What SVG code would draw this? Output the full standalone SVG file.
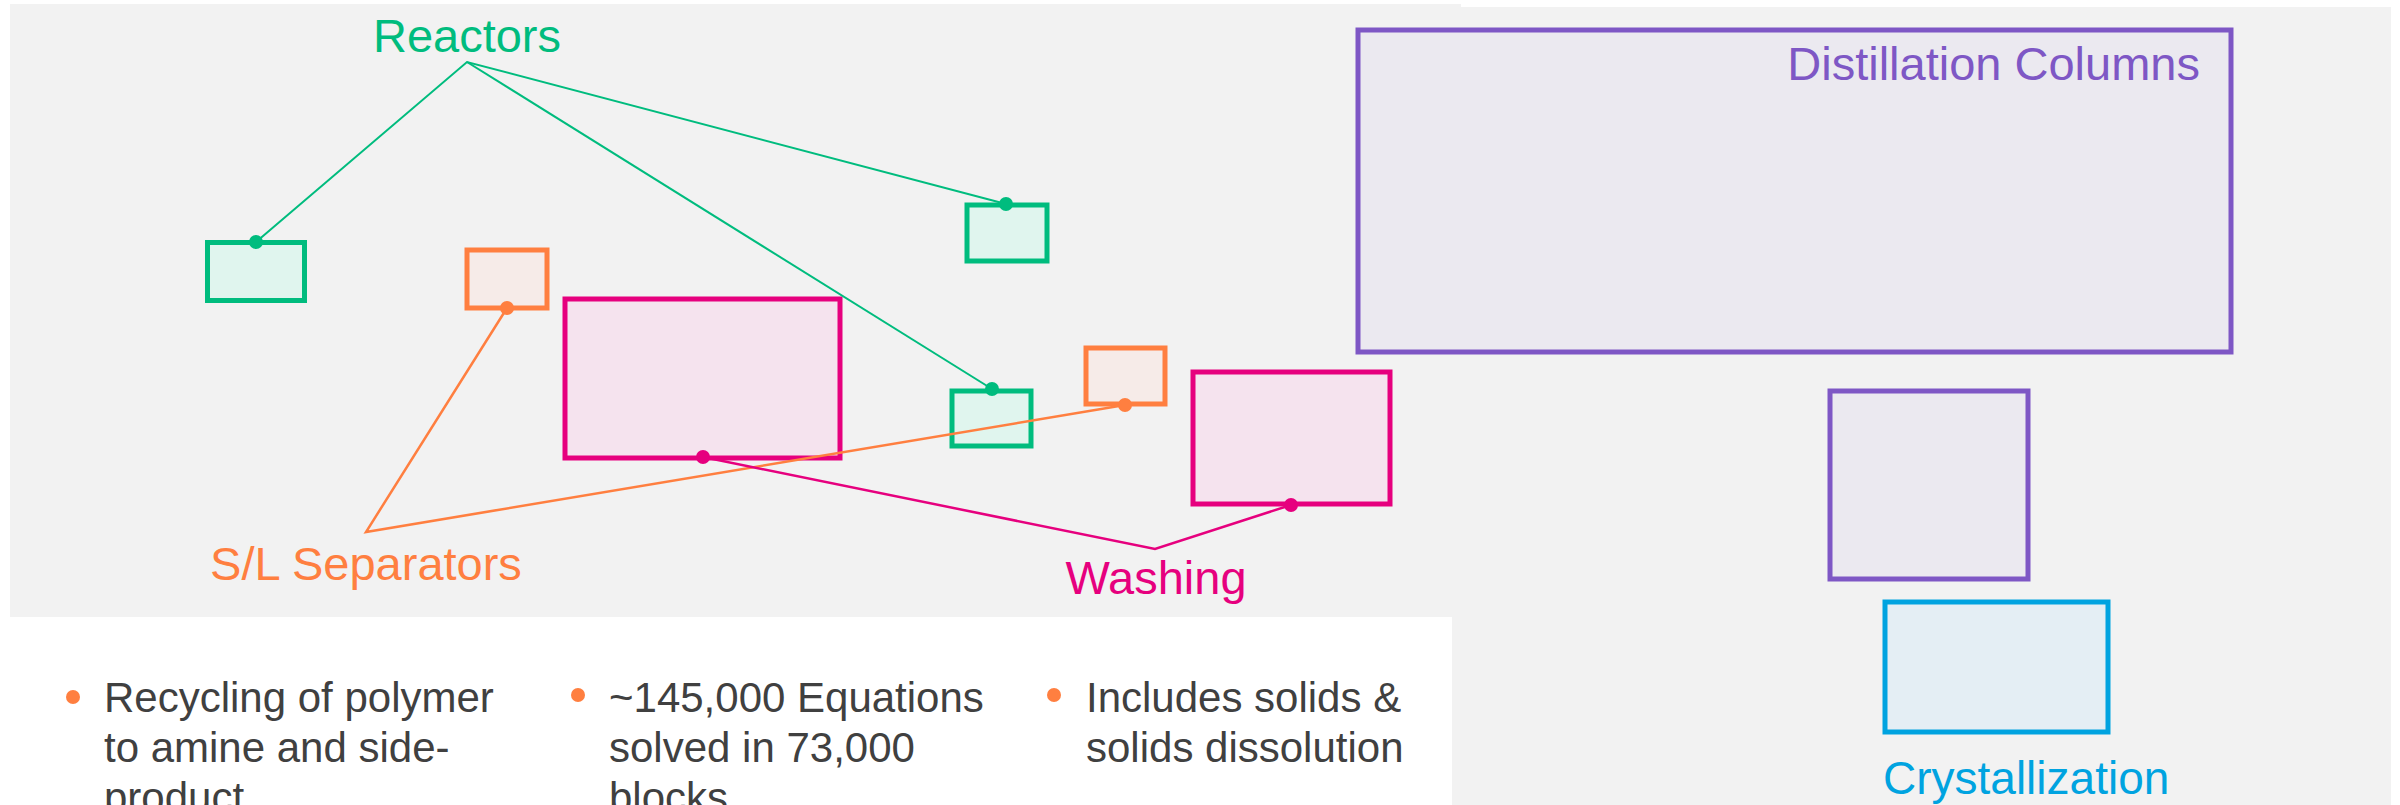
<svg xmlns="http://www.w3.org/2000/svg" width="2400" height="805" viewBox="0 0 2400 805">
<style>
.lbl{font-family:"Liberation Sans",Arial,sans-serif;font-size:47px}
.body{font-family:"Liberation Sans",Arial,sans-serif;font-size:42px;fill:#404040}
.g{stroke:#00BC7E;fill:#E0F5EE}
.o{stroke:#FF7F40;fill:#F6EBE8}
.m{stroke:#E6007E;fill:#F5E3EE}
.p{stroke:#7E57C5;fill:#EBE9F0}
.b{stroke:#00A3E0;fill:#E4EEF4}
.box{stroke-width:5}
.cg{stroke:#00BC7E;stroke-width:2;fill:none}
.co{stroke:#FF7F40;stroke-width:2.5;fill:none}
.cm{stroke:#E6007E;stroke-width:2.5;fill:none}
</style>
<rect x="0" y="0" width="2400" height="805" fill="#FFFFFF"/>
<rect x="10" y="4" width="1451" height="613" fill="#F2F2F2"/>
<rect x="1452" y="7" width="939" height="798" fill="#F2F2F2"/>

<g id="node-reactor1"><rect class="g box" x="207.5" y="242.5" width="97" height="58"/></g>
<g id="node-reactor2"><rect class="g box" x="967" y="205" width="80" height="56"/></g>
<g id="node-reactor3"><rect class="g box" x="952" y="391" width="79" height="55"/></g>
<g id="node-sep1"><rect class="o box" x="467" y="250" width="80" height="58"/></g>
<g id="node-sep2"><rect class="o box" x="1086" y="348" width="79" height="56"/></g>
<g id="node-wash1"><rect class="m box" x="565" y="299" width="275" height="159"/></g>
<g id="node-wash2"><rect class="m box" x="1193" y="372" width="197" height="132"/></g>
<g id="node-dist1"><rect class="p box" x="1358" y="30" width="873" height="322"/>
<text class="lbl" x="2200" y="80" text-anchor="end" fill="#7E57C5" font-size="46">Distillation Columns</text></g>
<g id="node-dist2"><rect class="p box" x="1830" y="391" width="198" height="188"/></g>
<g id="node-cryst"><rect class="b box" x="1885" y="602" width="223" height="130"/>
<text class="lbl" x="1883" y="794" fill="#00A3E0" style="font-size:46px">Crystallization</text></g>

<g id="connectors">
<polyline class="cg" points="256,242 467,62 1006,204"/>
<line class="cg" x1="467" y1="62" x2="992" y2="389"/>
<polyline class="co" points="507,308 366,532 1125,405"/>
<polyline class="cm" points="703,457 1155,549 1291,505"/>
<g fill="#00BC7E"><circle cx="256" cy="242" r="7"/><circle cx="1006" cy="204" r="7"/><circle cx="992" cy="389" r="7"/></g>
<g fill="#FF7F40"><circle cx="507" cy="308" r="7"/><circle cx="1125" cy="405" r="7"/></g>
<g fill="#E6007E"><circle cx="703" cy="457" r="7"/><circle cx="1291" cy="505" r="7"/></g>
</g>

<g id="label-reactors"><text class="lbl" x="467" y="52" text-anchor="middle" fill="#00BC7E">Reactors</text></g>
<g id="label-separators"><text class="lbl" x="366" y="580" text-anchor="middle" fill="#FF7F40">S/L Separators</text></g>
<g id="label-washing"><text class="lbl" x="1156" y="594" text-anchor="middle" fill="#E6007E">Washing</text></g>

<g id="bullets">
<circle cx="73" cy="697" r="7" fill="#FF7F40"/>
<circle cx="578" cy="695" r="7" fill="#FF7F40"/>
<circle cx="1054" cy="695" r="7" fill="#FF7F40"/>
<text class="body" x="104" y="712">Recycling of polymer</text>
<text class="body" x="104" y="762">to amine and side-</text>
<text class="body" x="104" y="812">product</text>
<text class="body" x="609" y="712">~145,000 Equations</text>
<text class="body" x="609" y="762">solved in 73,000</text>
<text class="body" x="609" y="812">blocks</text>
<text class="body" x="1086" y="712">Includes solids &amp;</text>
<text class="body" x="1086" y="762">solids dissolution</text>
</g>
</svg>
